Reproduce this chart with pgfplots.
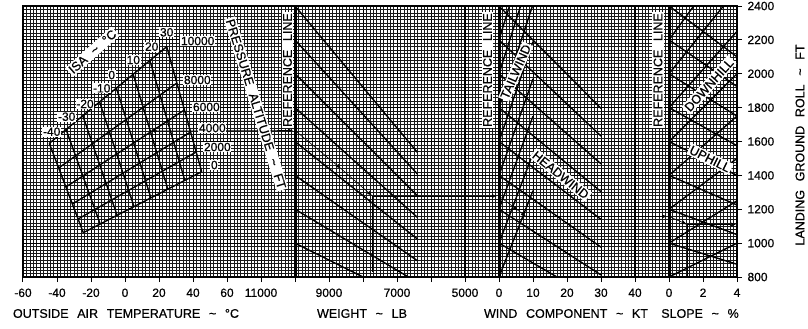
\documentclass[border=0pt]{standalone}
\usepackage{fontspec}
\setmainfont[WordSpace=2.5,UprightFeatures={FakeBold=0.6}]{Liberation Sans}
\usepackage{pgfplots}
\pgfplotsset{compat=1.18}
\usetikzlibrary{arrows.meta}
\begin{document}
\begin{tikzpicture}[x=1pt,y=1pt,
  lbl/.style={fill=white, inner sep=1.5pt, font=\fontsize{12.5}{13}\selectfont},
  num/.style={fill=white, inner sep=0.8pt, font=\fontsize{12}{13}\selectfont}]
\useasboundingbox (0,0) rectangle (808,-329);
\begin{axis}[
  at={(23pt,-277pt)}, anchor=south west,
  scale only axis, width=714pt, height=271pt,
  xmin=23, xmax=737, ymin=800, ymax=2400,
  xtick={23,57,...,737},
  xticklabels={-60,-40,-20,0,20,40,60,11000,{},9000,{},7000,{},5000,0,10,20,30,40,0,2,4},
  ytick={800,1000,...,2400},
  yticklabels={800,1000,1200,1400,1600,1800,2000,2200,2400},
  minor x tick num=9, minor y tick num=9,
  grid=both,
  major grid style={black, line width=1pt},
  minor grid style={black!90, line width=0.55pt},
  xtick pos=bottom, ytick pos=right, yticklabel pos=right,
  tick align=outside, major tick length=5pt, minor tick length=0pt,
  tick style={black, line width=1pt},
  axis line style={line width=1.3pt},
  tick label style={font=\fontsize{12}{14}\selectfont},
  xticklabel style={yshift=-3pt},
  yticklabel style={xshift=2pt},
  guide/.style={black, line width=1.4pt, forget plot},
  path/.style={black, line width=0.6pt, forget plot},
  arr/.style={black, line width=0.6pt, forget plot, -{Latex[length=5pt,width=4pt]}},
]
% reference and section lines
\addplot[black, line width=3pt, forget plot] coordinates {(295,800) (295,2400)};
\addplot[black, line width=3pt, forget plot] coordinates {(499,800) (499,2400)};
\addplot[black, line width=3pt, forget plot] coordinates {(669,800) (669,2400)};
\addplot[black, line width=1.8pt, forget plot] coordinates {(465,800) (465,2400)};
\addplot[black, line width=1.8pt, forget plot] coordinates {(635,800) (635,2400)};

% OAT / pressure altitude grid: pressure altitude lines 10000 ... 0
\addplot[guide] coordinates {(49.3,1589) (166.7,2160)};
\addplot[guide] coordinates {(58.7,1443.5) (176.9,1945.4)};
\addplot[guide] coordinates {(65.9,1331.4) (184.4,1786)};
\addplot[guide] coordinates {(72.4,1231) (190.6,1656)};
\addplot[guide] coordinates {(78.1,1142.4) (196.2,1538)};
\addplot[guide] coordinates {(83.3,1061.5) (201.7,1421.7)};
% temperature lines -40 ... 30
\addplot[guide] coordinates {(49.3,1589) (83.3,1061.5)};
\addplot[guide] coordinates {(66.1,1670.6) (100.2,1113.0)};
\addplot[guide] coordinates {(82.8,1752.1) (117.1,1164.4)};
\addplot[guide] coordinates {(99.6,1833.7) (134.0,1215.9)};
\addplot[guide] coordinates {(116.4,1915.3) (150.9,1267.3)};
\addplot[guide] coordinates {(133.2,1996.9) (167.8,1318.8)};
\addplot[guide] coordinates {(149.9,2078.4) (184.8,1370.3)};
\addplot[guide] coordinates {(166.7,2160) (201.7,1421.7)};

% weight guide lines
\addplot[guide] coordinates {(295,2400) (417.4,1536)};
\addplot[guide] coordinates {(295,2200) (417.4,1408)};
\addplot[guide] coordinates {(295,2000) (417.4,1280)};
\addplot[guide] coordinates {(295,1800) (417.4,1152)};
\addplot[guide] coordinates {(295,1600) (417.4,1024)};
\addplot[guide] coordinates {(295,1400) (417.4,896)};
\addplot[guide] coordinates {(295,1200) (417.4,768)};
\addplot[guide] coordinates {(295,1000) (417.4,640)};

% headwind lines
\addplot[guide] coordinates {(499,2400) (601,1796)};
\addplot[guide] coordinates {(499,2200) (601,1632)};
\addplot[guide] coordinates {(499,2000) (601,1468)};
\addplot[guide] coordinates {(499,1800) (601,1304)};
\addplot[guide] coordinates {(499,1600) (601,1140)};
\addplot[guide] coordinates {(499,1400) (601,976)};
\addplot[guide] coordinates {(499,1200) (601,812)};
\addplot[guide] coordinates {(499,1000) (601,648)};
% tailwind lines
\addplot[guide] coordinates {(499,800) (533,1310)};
\addplot[guide] coordinates {(499,1000) (533,1530)};
\addplot[guide] coordinates {(499,1200) (533,1750)};
\addplot[guide] coordinates {(499,1400) (533,1970)};
\addplot[guide] coordinates {(499,1600) (533,2190)};
\addplot[guide] coordinates {(499,1800) (533,2410)};
\addplot[guide] coordinates {(499,2000) (533,2630)};
\addplot[guide] coordinates {(499,2200) (533,2850)};

% downhill lines
\addplot[guide] coordinates {(669,800) (737,1000)};
\addplot[guide] coordinates {(669,1000) (737,1250)};
\addplot[guide] coordinates {(669,1200) (737,1500)};
\addplot[guide] coordinates {(669,1400) (737,1750)};
\addplot[guide] coordinates {(669,1600) (737,2000)};
\addplot[guide] coordinates {(669,1800) (737,2250)};
\addplot[guide] coordinates {(669,2000) (737,2500)};
\addplot[guide] coordinates {(669,2200) (737,2750)};
% uphill lines
\addplot[guide] coordinates {(669,2400) (737,2100)};
\addplot[guide] coordinates {(669,2200) (737,1925)};
\addplot[guide] coordinates {(669,2000) (737,1750)};
\addplot[guide] coordinates {(669,1800) (737,1575)};
\addplot[guide] coordinates {(669,1600) (737,1400)};
\addplot[guide] coordinates {(669,1400) (737,1225)};
\addplot[guide] coordinates {(669,1200) (737,1050)};
\addplot[guide] coordinates {(669,1000) (737,875)};

% example path
\addplot[path] coordinates {(155,955) (155,1662)};
\addplot[arr] coordinates {(155,1662) (293,1665)};
\addplot[arr] coordinates {(295,1665) (341,1440)};
\addplot[arr] coordinates {(341,1440) (372,1280)};
\addplot[path] coordinates {(372,830) (372,1280)};
\addplot[arr] coordinates {(372,1278) (497,1278)};
\addplot[arr] coordinates {(499,1278) (526,1158)};
\addplot[arr] coordinates {(526,1158) (667,1158)};
\addplot[arr] coordinates {(669,1158) (687,1110)};
\addplot[path] coordinates {(687,800) (687,1110)};
\addplot[arr] coordinates {(687,1110) (736,1110)};
\addplot[only marks, mark=*, mark size=1.6pt, forget plot] coordinates {(155,1662) (515,1206)};
\end{axis}

% labels inside the chart
\node[lbl, rotate=90] at (287.5,-70) {REFERENCE LINE};
\node[lbl, rotate=90] at (487.5,-70) {REFERENCE LINE};
\node[lbl, rotate=90] at (658,-70) {REFERENCE LINE};
\node[lbl, rotate=-72.8] at (256,-104) {PRESSURE ALTITUDE \textasciitilde{} FT};
\node[lbl, rotate=66.3] at (515.7,-71.7) {TAILWIND};
\node[lbl, rotate=-38.7] at (560.7,-175) {HEADWIND};
\node[lbl, rotate=48] at (709,-85) {DOWNHILL};
\node[lbl, rotate=-26.6] at (710,-159) {UPHILL};
\node[lbl, rotate=41.6] at (92.5,-51.7) {ISA \textasciitilde{} °C};

\node[num] at (51.7,-131.7) {-40};
\node[num] at (66.7,-116.7) {-30};
\node[num] at (85,-104) {-20};
\node[num] at (101.7,-88.3) {-10};
\node[num] at (111.7,-75) {0};
\node[num] at (133.3,-60) {10};
\node[num] at (151.7,-46.7) {20};
\node[num] at (166.7,-32.3) {30};

\node[num, anchor=west] at (180,-41) {10000};
\node[num, anchor=west] at (183,-80) {8000};
\node[num, anchor=west] at (192,-107) {6000};
\node[num, anchor=west] at (198,-128) {4000};
\node[num, anchor=west] at (203,-147) {2000};
\node[num, anchor=west] at (210,-165) {0};

% axis titles
\node[font=\fontsize{12.5}{13}\selectfont] at (126,-313.5) {OUTSIDE AIR TEMPERATURE \textasciitilde{} °C};
\node[font=\fontsize{12.5}{13}\selectfont] at (362,-313.5) {WEIGHT \textasciitilde{} LB};
\node[font=\fontsize{12.5}{13}\selectfont] at (566,-313.5) {WIND COMPONENT \textasciitilde{} KT};
\node[font=\fontsize{12.5}{13}\selectfont] at (700,-313.5) {SLOPE \textasciitilde{} \%};
\node[font=\fontsize{12.5}{13}\selectfont, rotate=90] at (800,-145) {LANDING GROUND ROLL \textasciitilde{} FT};
\end{tikzpicture}
\end{document}
